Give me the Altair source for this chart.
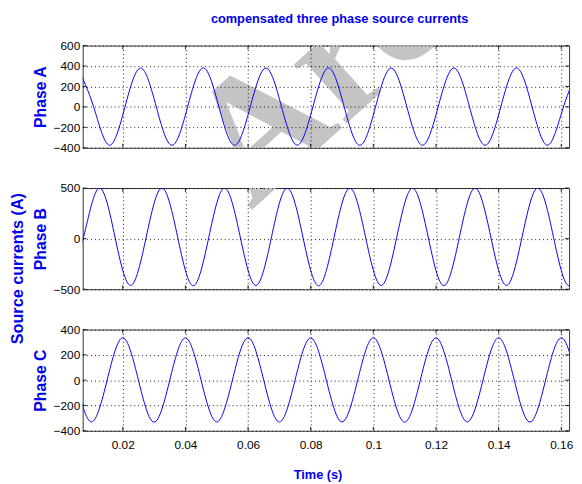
import altair as alt
import pandas as pd

# ---- data (quarter-period points) ----
time_a = [0.0057, 0.0107, 0.0157, 0.0207, 0.0257, 0.0307, 0.0357, 0.0407, 0.0457, 0.0507,
          0.0557, 0.0607, 0.0657, 0.0707, 0.0757, 0.0807, 0.0857, 0.0907, 0.0957, 0.1007,
          0.1057, 0.1107, 0.1157, 0.1207, 0.1257, 0.1307, 0.1357, 0.1407, 0.1457, 0.1507,
          0.1557, 0.1607, 0.1657]
current_a = [380, 0, -375, 0, 380, 0, -376, 0, 381, 0,
             -375, 0, 380, 0, -374, 0, 381, 0, -376, 0,
             380, 0, -375, 0, 380, 0, -376, 0, 381, 0,
             -375, 0, 380]

time_b = [0.0025, 0.0075, 0.0125, 0.0175, 0.0225, 0.0275, 0.0325, 0.0375, 0.0425, 0.0475,
          0.0525, 0.0575, 0.0625, 0.0675, 0.0725, 0.0775, 0.0825, 0.0875, 0.0925, 0.0975,
          0.1025, 0.1075, 0.1125, 0.1175, 0.1225, 0.1275, 0.1325, 0.1375, 0.1425, 0.1475,
          0.1525, 0.1575, 0.1625, 0.1675]
current_b = [-465, 18, 500, 18, -462, 18, 500, 18, -465, 18,
             500, 18, -462, 18, 500, 18, -465, 18, 500, 18,
             -463, 18, 500, 18, -465, 18, 500, 18, -462, 18,
             500, 18, -465, 18]

time_c = [0.005, 0.010, 0.015, 0.020, 0.025, 0.030, 0.035, 0.040, 0.045, 0.050,
          0.055, 0.060, 0.065, 0.070, 0.075, 0.080, 0.085, 0.090, 0.095, 0.100,
          0.105, 0.110, 0.115, 0.120, 0.125, 0.130, 0.135, 0.140, 0.145, 0.150,
          0.155, 0.160, 0.165]
current_c = [0, -330, 0, 335, 0, -332, 0, 334, 0, -330,
             0, 335, 0, -331, 0, 334, 0, -330, 0, 335,
             0, -332, 0, 334, 0, -330, 0, 335, 0, -331,
             0, 334, 0]

x_ticks = [0.02, 0.04, 0.06, 0.08, 0.10, 0.12, 0.14, 0.16]
ya_ticks = [600, 400, 200, 0, -200, -400]
yb_ticks = [500, 0, -500]
yc_ticks = [400, 200, 0, -200, -400]

title_text = "compensated three phase source currents"
ylabel_text = "Source currents (A)"
xlabel_text = "Time (s)"
watermark_text = "Arch"

BLUE = "#0000ee"
FONT = "Liberation Sans Narrow, Arial Narrow, Liberation Sans, sans-serif"
W = 495
X_DOMAIN = [0.0072, 0.1625]
TICK = 4


def x_enc(show):
    kw = dict(values=x_ticks, format=".2~f", ticks=False, domain=False, grid=True,
              gridColor="black", gridDash=[1, 3], gridOpacity=0.9, labels=show,
              labelFont=FONT, labelFontSize=12, labelColor="black", labelPadding=9,
              labelFlush=False, labelOverlap=False, zindex=1)
    if show:
        kw.update(title=xlabel_text, titleFont=FONT, titleFontSize=13, titleFontWeight="bold",
                  titleColor=BLUE, titleX=239, titleY=45, titleAlign="center",
                  titleBaseline="middle")
    else:
        kw.update(title="")
    return alt.X("t:Q", scale=alt.Scale(domain=X_DOMAIN, nice=False, zero=False), axis=alt.Axis(**kw))


def y_enc(ticks, dom, label, h):
    return alt.Y("i:Q", scale=alt.Scale(domain=dom, nice=False, zero=False),
                 axis=alt.Axis(values=ticks, format="d", ticks=False, domain=False, grid=True,
                               gridColor="black", gridDash=[1, 3], gridOpacity=0.9,
                               labelFont=FONT, labelFontSize=12, labelColor="black",
                               labelPadding=3, labelOverlap=False, labelFlush=False,
                               title=label, titleFont=FONT, titleFontSize=16,
                               titleFontWeight="bold", titleColor=BLUE, titleX=-43,
                               titleY=h / 2, titleAngle=270, titleAlign="center",
                               titleBaseline="middle", zindex=1))


def panel_layers(t, v, ticks, dom, label, h, show_x):
    xe = x_enc(show_x)
    ye = y_enc(ticks, dom, label, h)
    df = pd.DataFrame({"t": t, "i": v})
    ln = alt.Chart(df).mark_line(color="#0000ff", strokeWidth=1, interpolate="natural",
                                 clip=True).encode(x=xe, y=ye)
    xt = pd.DataFrame({"t": x_ticks})
    yt = pd.DataFrame({"i": ticks})
    tick_style = dict(color="#222222", strokeWidth=1)
    top = alt.Chart(xt).mark_rule(**tick_style).encode(x=xe, y=alt.value(0), y2=alt.value(TICK))
    bot = alt.Chart(xt).mark_rule(**tick_style).encode(x=xe, y=alt.value(h - TICK), y2=alt.value(h))
    lft = alt.Chart(yt).mark_rule(**tick_style).encode(y=ye, x=alt.value(0), x2=alt.value(TICK))
    rgt = alt.Chart(yt).mark_rule(**tick_style).encode(y=ye, x=alt.value(W - TICK), x2=alt.value(W))
    return [ln, top, bot, lft, rgt]


def watermark(px, py):
    return alt.Chart(pd.DataFrame({"w": [watermark_text]})).mark_text(
        font="Liberation Serif", fontSize=175, fontWeight="bold", color="#c4c4c4",
        angle=318, align="left", baseline="alphabetic", clip=True
    ).encode(text="w:N", x=alt.value(px), y=alt.value(py))


HA, HB, HC = 104, 103, 103

panel_a = alt.layer(watermark(171, 167),
                    *panel_layers(time_a, current_a, ya_ticks, [-400, 600], "Phase A", HA, False)).properties(
    width=W, height=HA,
    title=alt.TitleParams(title_text, font=FONT, fontSize=13, fontWeight="bold", color=BLUE,
                          anchor="middle", offset=14, dx=14))

ylab = alt.Chart(pd.DataFrame({"s": [ylabel_text]})).mark_text(
    font=FONT, fontSize=16.5, fontWeight="bold", color=BLUE, angle=270,
    align="center", baseline="middle"
).encode(text="s:N", x=alt.value(-66), y=alt.value(82))

panel_b = alt.layer(watermark(171, 23),
                    *panel_layers(time_b, current_b, yb_ticks, [-500, 500], "Phase B", HB, False),
                    ylab).properties(width=W, height=HB)

panel_c = alt.layer(*panel_layers(time_c, current_c, yc_ticks, [-400, 400], "Phase C", HC, True)).properties(
    width=W, height=HC)

chart = alt.vconcat(panel_a, panel_b, panel_c, spacing=41, bounds="flush").properties(
    padding={"left": 1, "top": 0, "right": 0, "bottom": 0},
    background="white",
).configure_view(stroke="#333333", strokeWidth=1)

chart.save("out.html", embed_options={"renderer": "svg", "actions": False})
